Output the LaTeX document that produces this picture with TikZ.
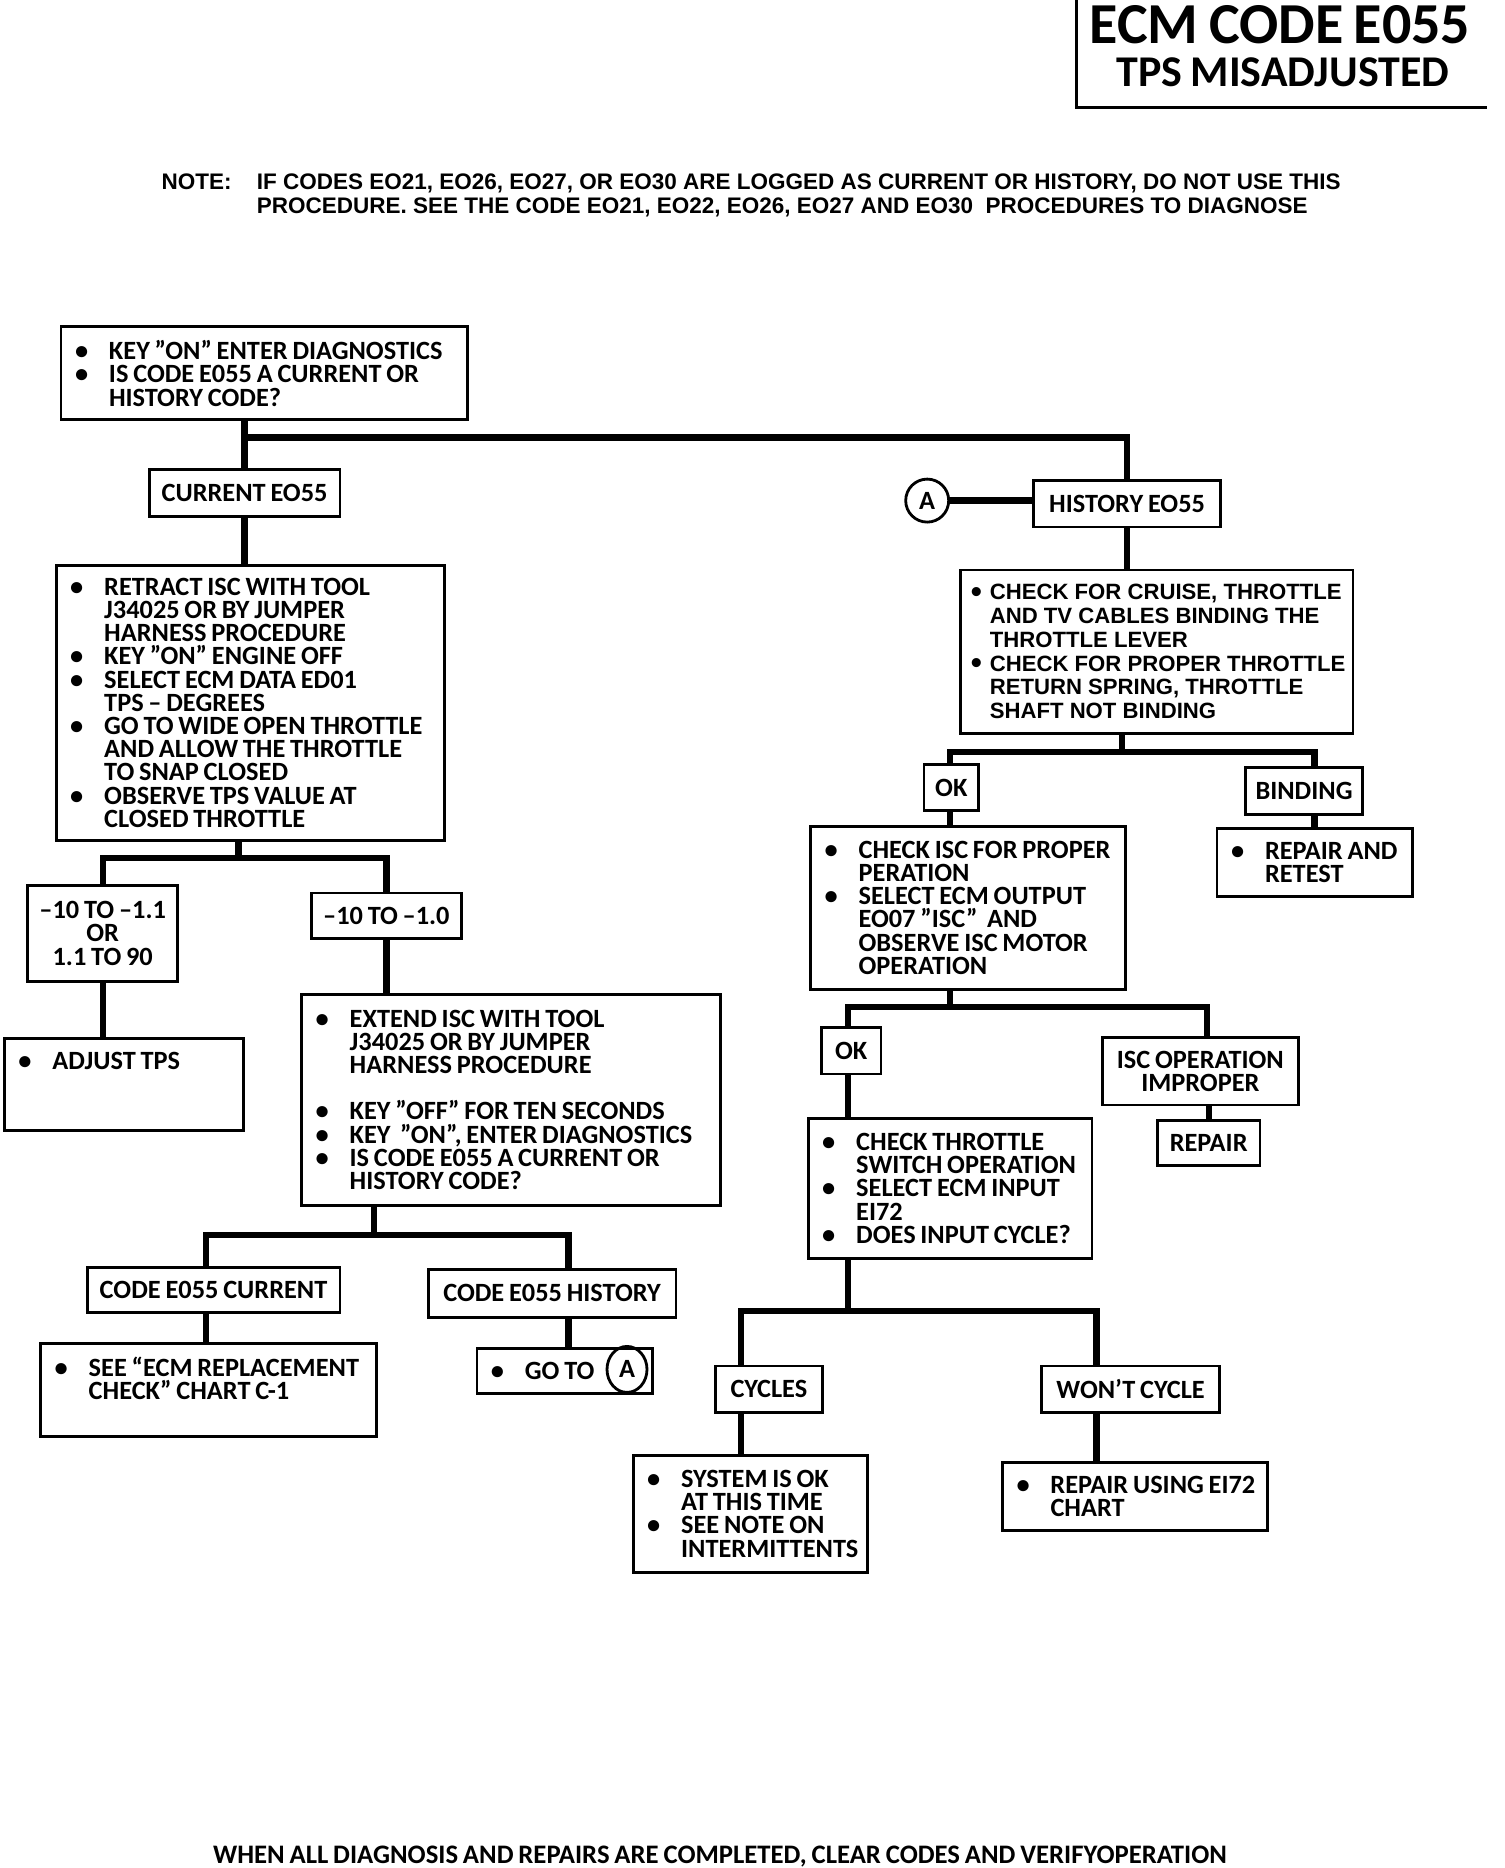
\documentclass[tikz,border=0pt]{standalone}
\usepackage{fontspec}
\usetikzlibrary{shapes.geometric}
\setmainfont{Carlito}[WordSpace=0.8]
\newfontfamily\arialfont{Liberation Sans}
\newlength{\bulw}
\setlength{\bulw}{0.34cm}
\newcommand{\bulchar}{\textbullet}
\newcommand{\itm}[1]{\makebox[\bulw][l]{\bulchar}\mbox{\spaceskip=0pt\relax #1}}
\newcommand{\cont}[1]{\hspace*{\bulw}\mbox{\spaceskip=0pt\relax #1}}

\begin{document}
\begin{tikzpicture}[x=1cm, y=-1cm,
  box/.style={draw, line width=0.8pt, anchor=north west, inner xsep=0.14cm, inner ysep=0pt,
    font=\fontsize{7.5pt}{6.6pt}\selectfont\bfseries},
  lbl/.style={box, align=center, inner xsep=0pt},
  steps/.style={box, align=left},
  conn/.style={line width=1.8pt},
  ring/.style={draw, line width=0.8pt, inner sep=0pt, font=\fontsize{7.5pt}{6.6pt}\selectfont\bfseries},
  notetext/.style={anchor=base west, inner sep=0pt, font=\arialfont\bfseries\fontsize{6.4pt}{6.8pt}\selectfont}]
  \useasboundingbox (0,0) rectangle (15.04,18.68);

  % heading
  \draw[line width=0.9pt] (10.762,0) |- (14.874,1.073);
  \node[font=\fontsize{16.5pt}{16.5pt}\selectfont\bfseries] (ttl) at (12.80,0.25) {ECM CODE E055};
  \node[font=\fontsize{12.5pt}{12.5pt}\selectfont\bfseries] (subttl) at (12.83,0.727) {TPS MISADJUSTED};
  \node[notetext] (notelbl) at (1.609,1.891) {NOTE:};
  \node[notetext] (note1) at (2.562,1.891)
    {IF CODES EO21, EO26, EO27, OR EO30 ARE LOGGED AS CURRENT OR HISTORY, DO NOT USE THIS};
  \node[notetext] (note2) at (2.562,2.130)
    {PROCEDURE. SEE THE CODE EO21, EO22, EO26, EO27 AND EO30 \ PROCEDURES TO DIAGNOSE};

  % left branch
  \node[steps, text width=3.784cm, minimum height=0.93cm] (start) at (0.596,3.254)
    {\itm{KEY "ON" ENTER DIAGNOSTICS}\\ \itm{IS CODE E055 A CURRENT OR}\\ \cont{HISTORY CODE?}};
  \node[lbl, minimum width=1.907cm, minimum height=0.465cm] (cur) at (1.478,4.684) {CURRENT EO55};
  \node[steps, text width=3.605cm, minimum height=2.753cm] (retract) at (0.548,5.637)
    {\itm{RETRACT ISC WITH TOOL}\\ \cont{J34025 OR BY JUMPER}\\ \cont{HARNESS PROCEDURE}\\
     \itm{KEY "ON" ENGINE OFF}\\ \itm{SELECT ECM DATA ED01}\\ \cont{TPS – DEGREES}\\
     \itm{GO TO WIDE OPEN THROTTLE}\\ \cont{AND ALLOW THE THROTTLE}\\ \cont{TO SNAP CLOSED}\\
     \itm{OBSERVE TPS VALUE AT}\\ \cont{CLOSED THROTTLE}};
  \node[lbl, minimum width=1.502cm, minimum height=0.954cm] (range1) at (0.262,8.843) {–10 TO –1.1\\OR\\1.1 TO 90};
  \node[lbl, minimum width=1.502cm, minimum height=0.453cm] (range2) at (3.099,8.915) {–10 TO –1.0};
  \node[steps, text width=2.109cm, minimum height=0.918cm] (adjust) at (0.03,10.369)
    {\itm{ADJUST TPS}\\ \mbox{}\\ \mbox{}};
  \node[steps, text width=3.904cm, minimum height=2.109cm] (extend) at (3.003,9.928)
    {\itm{EXTEND ISC WITH TOOL}\\ \cont{J34025 OR BY JUMPER}\\ \cont{HARNESS PROCEDURE}\\ \mbox{}\\
     \itm{KEY "OFF" FOR TEN SECONDS}\\ \itm{KEY \ "ON", ENTER DIAGNOSTICS}\\
     \itm{IS CODE E055 A CURRENT OR}\\ \cont{HISTORY CODE?}};
  \node[lbl, minimum width=2.527cm, minimum height=0.453cm] (curcode) at (0.858,12.657) {CODE E055 CURRENT};
  \node[lbl, minimum width=2.479cm, minimum height=0.477cm] (hiscode) at (4.267,12.681) {CODE E055 HISTORY};
  \node[steps, text width=3.081cm, minimum height=0.93cm] (replace) at (0.393,13.420)
    {\itm{SEE “ECM REPLACEMENT}\\ \cont{CHECK” CHART C-1}\\ \mbox{}};
  \node[steps, text width=1.472cm, minimum height=0.453cm] (goto) at (4.755,13.467) {\itm{GO TO}};
  \node[ring, ellipse, minimum width=0.40cm, minimum height=0.46cm] (gotoA) at (6.27,13.694) {A};

  % right branch
  \node[ring, circle, minimum size=0.43cm] (ringA) at (9.272,5.006) {A};
  \node[lbl, minimum width=1.871cm, minimum height=0.465cm] (hist) at (10.321,4.791) {HISTORY EO55};
  \node[steps, inner xsep=0.1cm, text width=3.721cm, minimum height=1.633cm,
    font=\arialfont\bfseries\fontsize{6.3pt}{6.78pt}\selectfont,
    execute at begin node={\setlength{\bulw}{0.19cm}%
      \renewcommand{\bulchar}{\raisebox{-0.8pt}{\fontsize{9pt}{6pt}\selectfont\textbullet}}}] (cruise) at (9.594,5.685)
    {\itm{CHECK FOR CRUISE, THROTTLE}\\ \cont{AND TV CABLES BINDING THE}\\ \cont{THROTTLE LEVER}\\
     \itm{CHECK FOR PROPER THROTTLE}\\ \cont{RETURN SPRING, THROTTLE}\\ \cont{SHAFT NOT BINDING}};
  \node[lbl, minimum width=0.548cm, minimum height=0.465cm] (ok1) at (9.225,7.628) {OK};
  \node[lbl, minimum width=1.168cm, minimum height=0.465cm] (binding) at (12.442,7.663) {BINDING};
  \node[steps, text width=2.866cm, minimum height=1.633cm] (isc) at (8.092,8.247)
    {\itm{CHECK ISC FOR PROPER}\\ \cont{PERATION}\\ \itm{SELECT ECM OUTPUT}\\
     \cont{EO07 "ISC" \ AND}\\ \cont{OBSERVE ISC MOTOR}\\ \cont{OPERATION}};
  \node[steps, text width=1.675cm, minimum height=0.679cm] (retest) at (12.156,8.271)
    {\itm{REPAIR AND}\\ \cont{RETEST}};
  \node[lbl, minimum width=0.596cm, minimum height=0.465cm] (ok2) at (8.200,10.261) {OK};
  \node[lbl, minimum width=1.955cm, minimum height=0.679cm] (improper) at (11.012,10.357) {ISC OPERATION\\IMPROPER};
  \node[lbl, minimum width=1.025cm, minimum height=0.453cm] (repair) at (11.560,11.191) {REPAIR};
  \node[steps, text width=2.557cm, minimum height=1.406cm] (throttle) at (8.068,11.167)
    {\itm{CHECK THROTTLE}\\ \cont{SWITCH OPERATION}\\ \itm{SELECT ECM INPUT}\\
     \cont{EI72}\\ \itm{DOES INPUT CYCLE?}};
  \node[lbl, minimum width=1.072cm, minimum height=0.465cm] (cycles) at (7.139,13.646) {CYCLES};
  \node[lbl, minimum width=1.776cm, minimum height=0.465cm] (wont) at (10.404,13.646) {WON'T CYCLE};
  \node[steps, text width=2.067cm, minimum height=1.168cm] (sys) at (6.317,14.540)
    {\itm{SYSTEM IS OK}\\ \cont{AT THIS TIME}\\ \itm{SEE NOTE ON}\\ \cont{INTERMITTENTS}};
  \node[steps, text width=2.366cm, minimum height=0.680cm] (eichart) at (10.011,14.611)
    {\itm{REPAIR USING EI72}\\ \cont{CHART}};

  \node[font=\fontsize{7.6pt}{7.6pt}\selectfont\bfseries] (footer) at (7.20,18.57)
    {WHEN ALL DIAGNOSIS AND REPAIRS ARE COMPLETED, CLEAR CODES AND VERIFYOPERATION};

  % junctions
  \coordinate (b1) at (2.431,4.374);
  \coordinate (b2) at (2.384,8.581);
  \coordinate (b3l) at (2.062,12.347);
  \coordinate (b3) at (3.742,12.347);
  \coordinate (b3r) at (5.685,12.347);
  \coordinate (b4l) at (9.499,7.520);
  \coordinate (b4) at (11.221,7.520);
  \coordinate (b4r) at (13.145,7.520);
  \coordinate (b5l) at (8.481,10.071);
  \coordinate (b5) at (9.499,10.071);
  \coordinate (b5r) at (12.073,10.071);
  \coordinate (b6l) at (7.413,13.110);
  \coordinate (b6) at (8.481,13.110);
  \coordinate (b6r) at (10.965,13.110);

  % connectors
  \draw[conn] (start.south -| cur.north) -- (cur.north);
  \draw[conn] (b1) -| (hist.north);
  \draw[conn] (cur.south) -- (cur.south |- retract.north);
  \draw[conn] (b2 |- retract.south) -- (b2);
  \draw[conn] (range1.north) |- (b2) -| (range2.north);
  \draw[conn] (range1.south) -- (range1.south |- adjust.north);
  \draw[conn] (range2.south) -- (range2.south |- extend.north);
  \draw[conn] (b3 |- extend.south) -- (b3);
  \draw[conn] (curcode.north -| b3l) -- (b3l) -- (b3r) -- (hiscode.north -| b3r);
  \draw[conn] (curcode.south -| b3l) -- (replace.north -| b3l);
  \draw[conn] (hiscode.south -| b3r) -- (goto.north -| b3r);

  \draw[conn] (ringA.east) -- (ringA.east -| hist.west);
  \draw[conn] (hist.south) -- (hist.south |- cruise.north);
  \draw[conn] (b4 |- cruise.south) -- (b4);
  \draw[conn] (ok1.north -| b4l) -- (b4l) -- (b4r) -- (binding.north -| b4r);
  \draw[conn] (ok1.south -| b4l) -- (isc.north -| b4l);
  \draw[conn] (binding.south -| b4r) -- (retest.north -| b4r);
  \draw[conn] (isc.south -| b5) -- (b5);
  \draw[conn] (ok2.north -| b5l) -- (b5l) -- (b5r) -- (improper.north -| b5r);
  \draw[conn] (ok2.south -| b5l) -- (throttle.north -| b5l);
  \draw[conn] (improper.south -| repair.north) -- (repair.north);
  \draw[conn] (throttle.south -| b6) -- (b6);
  \draw[conn] (cycles.north -| b6l) -- (b6l) -- (b6r) -- (wont.north -| b6r);
  \draw[conn] (cycles.south -| b6l) -- (sys.north -| b6l);
  \draw[conn] (wont.south -| b6r) -- (eichart.north -| b6r);
\end{tikzpicture}
\end{document}
